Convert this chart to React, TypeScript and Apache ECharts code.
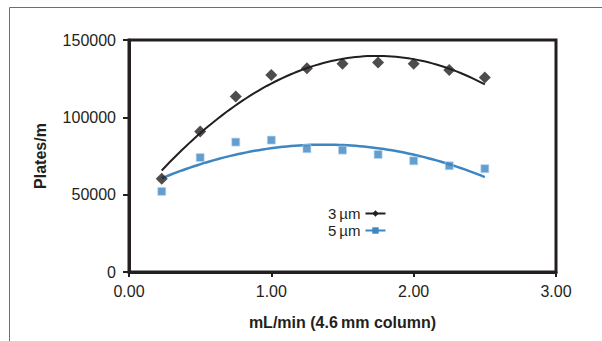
import React, { useEffect, useRef } from "react";
import * as echarts from "echarts";

// Flow rate (mL/min) for each measurement
const flowRates = [0.23, 0.5, 0.75, 1.0, 1.25, 1.5, 1.75, 2.0, 2.25, 2.5];
// Efficiency (plates/m) for the 3 µm and 5 µm columns
const plates3um = [60300, 90800, 113400, 127400, 131700, 134700, 135400, 134700, 130600, 125700];
const plates5um = [52100, 74000, 84000, 85300, 79700, 78800, 76000, 71900, 68700, 66800];

const xTicks = [0, 1, 2, 3];
const yTicks = [0, 50000, 100000, 150000];

const INK = "#231f20";
const BLUE = "#3d86c2";

// Second-order least-squares fit, sampled over the measured range
function quadTrend(xs: number[], ys: number[], steps = 80): number[][] {
  let s0 = 0, s1 = 0, s2 = 0, s3 = 0, s4 = 0, t0 = 0, t1 = 0, t2 = 0;
  xs.forEach((x, i) => {
    const y = ys[i];
    s0 += 1; s1 += x; s2 += x * x; s3 += x * x * x; s4 += x * x * x * x;
    t0 += y; t1 += x * y; t2 += x * x * y;
  });
  const m = [
    [s0, s1, s2, t0],
    [s1, s2, s3, t1],
    [s2, s3, s4, t2],
  ];
  for (let c = 0; c < 3; c++) {
    for (let r = c + 1; r < 3; r++) {
      const f = m[r][c] / m[c][c];
      for (let k = c; k < 4; k++) m[r][k] -= f * m[c][k];
    }
  }
  const coef = [0, 0, 0];
  for (let r = 2; r >= 0; r--) {
    let v = m[r][3];
    for (let k = r + 1; k < 3; k++) v -= m[r][k] * coef[k];
    coef[r] = v / m[r][r];
  }
  const lo = Math.min(...xs), hi = Math.max(...xs);
  const out: number[][] = [];
  for (let i = 0; i <= steps; i++) {
    const x = lo + ((hi - lo) * i) / steps;
    out.push([x, coef[0] + coef[1] * x + coef[2] * x * x]);
  }
  return out;
}

export default function App() {
  const ref = useRef<HTMLDivElement>(null);

  useEffect(() => {
    if (!ref.current) return;
    const chart = echarts.init(ref.current, null, { renderer: "svg" });
    const labelFont = "'Liberation Sans', Arial, sans-serif";
    const titleFont = "'Liberation Sans Narrow', 'Liberation Sans', Arial, sans-serif";

    chart.setOption({
      animation: false,
      backgroundColor: "#ffffff",
      graphic: [
        {
          type: "rect",
          shape: { x: 9.5, y: 7.5, width: 800, height: 600 },
          style: { fill: "none", stroke: "#6d6e70", lineWidth: 1 },
          silent: true,
        },
      ],
      grid: {
        left: 129,
        right: 46,
        top: 40,
        bottom: 69,
        show: true,
        borderColor: INK,
        borderWidth: 3,
      },
      legend: {
        orient: "vertical",
        left: 323,
        top: 201,
        align: "right",
        itemGap: 2,
        itemWidth: 20,
        itemHeight: 8,
        data: ["3\u2009µm", "5\u2009µm"],
        textStyle: { fontFamily: labelFont, fontSize: 15, color: INK },
      },
      xAxis: {
        type: "value",
        min: xTicks[0],
        max: xTicks[xTicks.length - 1],
        interval: 1,
        name: "mL/min (4.6\u2009mm column)",
        nameLocation: "middle",
        nameGap: 42,
        nameTextStyle: {
          fontFamily: titleFont,
          fontWeight: "bold",
          fontSize: 16,
          color: INK,
        },
        axisLine: { onZero: false, lineStyle: { color: INK, width: 3 } },
        axisTick: { length: 5, lineStyle: { color: INK, width: 2 } },
        splitLine: { show: false },
        axisLabel: {
          fontFamily: labelFont,
          fontSize: 16,
          color: INK,
          margin: 11,
          formatter: (v: number) => v.toFixed(2),
        },
      },
      yAxis: {
        type: "value",
        min: yTicks[0],
        max: yTicks[yTicks.length - 1],
        interval: 50000,
        name: "Plates/m",
        nameLocation: "middle",
        nameGap: 81,
        nameTextStyle: {
          fontFamily: titleFont,
          fontWeight: "bold",
          fontSize: 16,
          color: INK,
        },
        axisLine: { onZero: false, lineStyle: { color: INK, width: 3 } },
        axisTick: { length: 6, lineStyle: { color: INK, width: 2 } },
        splitLine: { show: false },
        axisLabel: {
          fontFamily: labelFont,
          fontSize: 16,
          color: INK,
          margin: 13,
          formatter: (v: number) => String(v),
        },
      },
      series: [
        {
          name: "3\u2009µm",
          type: "line",
          data: quadTrend(flowRates, plates3um),
          showSymbol: false,
          symbol: "diamond",
          lineStyle: { color: INK, width: 2 },
          itemStyle: { color: INK },
          z: 2,
        },
        {
          name: "5\u2009µm",
          type: "line",
          data: quadTrend(flowRates, plates5um),
          showSymbol: false,
          symbol: "rect",
          lineStyle: { color: BLUE, width: 2.5 },
          itemStyle: { color: BLUE },
          z: 2,
        },
        {
          name: "3 µm points",
          type: "scatter",
          data: flowRates.map((x, i) => [x, plates3um[i]]),
          symbol: "diamond",
          symbolSize: 12,
          itemStyle: { color: INK },
          z: 3,
        },
        {
          name: "5 µm points",
          type: "scatter",
          data: flowRates.map((x, i) => [x, plates5um[i]]),
          symbol: "rect",
          symbolSize: 8,
          itemStyle: { color: BLUE, borderColor: "#bcd6ec", borderWidth: 0.8 },
          z: 3,
        },
      ],
    });

    return () => chart.dispose();
  }, []);

  return (
    <div
      ref={ref}
      style={{ position: "fixed", left: 0, top: 0, width: 602, height: 341 }}
    />
  );
}
